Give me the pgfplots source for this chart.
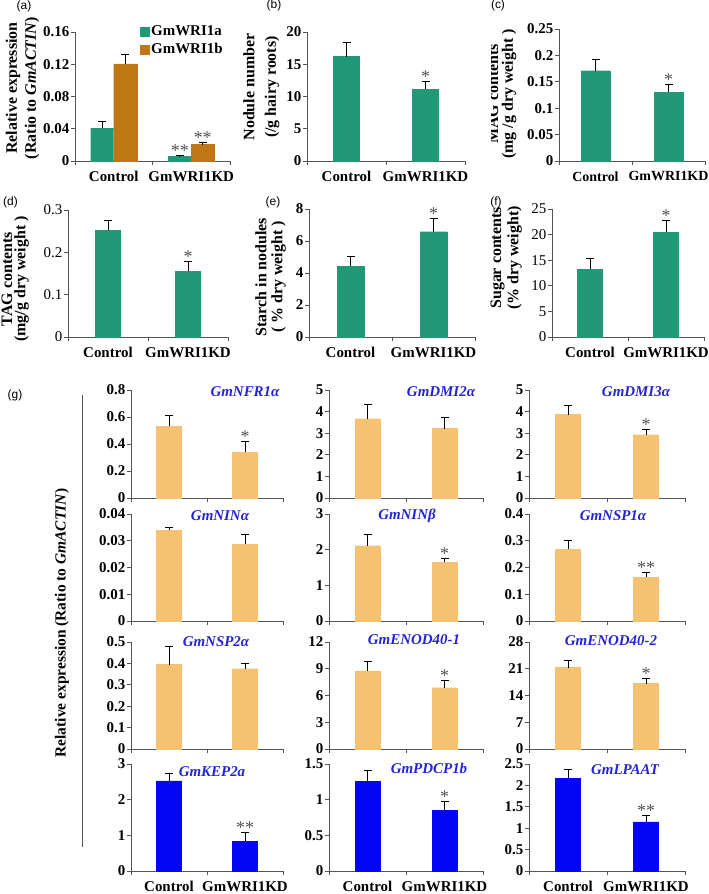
\documentclass[border=0pt]{standalone}
\usepackage{fontspec}
\setmainfont{Liberation Serif}
\newfontfamily\sansf{Liberation Sans}
\usepackage{pgfplots}
\pgfplotsset{compat=1.18}
\definecolor{gA}{RGB}{33,152,118}
\definecolor{gB}{RGB}{191,119,22}
\definecolor{lo}{RGB}{245,193,115}
\definecolor{bl}{RGB}{5,5,245}
\definecolor{geneblue}{RGB}{35,35,215}
\definecolor{axisc}{RGB}{85,85,85}
\definecolor{starc}{RGB}{80,80,80}
\pgfplotsset{
 panel/.style={
  scale only axis, anchor=south west,
  axis x line*=bottom, axis y line*=left,
  axis line style={-, draw=axisc, line width=0.9bp},
  every tick/.style={draw=axisc, line width=0.9bp},
  tick align=outside, major tick length=4bp,
  xmin=-0.5, xmax=1.5, ymin=0,
  scaled y ticks=false,
  xtick={-0.5,0.5,1.5}, xticklabels={,,},
  ybar, bar width=25bp, clip=false,
  yticklabel style={font=\fontsize{15}{15}\selectfont\bfseries, inner sep=1.5bp},
  xticklabel style={font=\fontsize{15}{15}\selectfont\bfseries},
  error bars/y dir=plus, error bars/y explicit,
  error bars/error bar style={draw=black, line width=0.8bp},
  error bars/error mark options={draw=black, line width=0.8bp, mark size=4bp, rotate=90},
 },
 reg/.style={yticklabel style={font=\fontsize{15}{15}\selectfont\mdseries}},
 cats/.style={extra x ticks={0,1}, extra x tick labels={Control,GmWRI1KD},
   extra x tick style={major tick length=0pt, xticklabel style={yshift=-7bp}}},
}
\tikzset{
 sig/.style={font=\fontsize{18}{18}\selectfont, text=starc, anchor=base, inner sep=0pt, yshift=-1bp},
 ylab/.style={font=\fontsize{16}{16}\selectfont\bfseries, rotate=90, anchor=center, inner sep=0pt},
 plab/.style={font=\sansf\fontsize{12}{12}\selectfont, anchor=center, inner sep=0pt},
 glab/.style={font=\fontsize{15}{15}\selectfont\bfseries\itshape, text=geneblue, anchor=center, inner sep=0pt},
}
\begin{document}
\begin{tikzpicture}
\path[use as bounding box] (0bp,0bp) rectangle (709bp,894bp);

% ---------- (a)
\begin{axis}[panel, cats, at={(75bp,733bp)}, width=155bp, height=129bp,
  ymax=0.16, ytick={0,0.04,0.08,0.12,0.16}, yticklabels={0,0.04,0.08,0.12,0.16},
  ybar=0pt, bar width=23bp,
  legend style={at={(0.42,1.06)}, anchor=north west, draw=none, fill=none,
    font=\fontsize{15}{15}\selectfont\bfseries, row sep=3bp, inner sep=0pt,
    nodes={inner sep=1.5bp}},
  legend cell align=left,
  legend image code/.code={\fill[#1] (0bp,-4.5bp) rectangle (9bp,4.5bp);}]
\addplot[fill=gA, draw=gA] coordinates {(0,0.0406) +- (0,0.0084) (1,0.0054) +- (0,0.0012)};
\addplot[fill=gB, draw=gB] coordinates {(0,0.1206) +- (0,0.012) (1,0.0203) +- (0,0.0029)};
\legend{GmWRI1a,GmWRI1b}
\node[sig] at (axis cs:0.852,0.0066) {**};
\node[sig] at (axis cs:1.148,0.0232) {**};
\end{axis}
\node[ylab] at (13bp,806bp) {Relative expression};
\node[ylab] at (32bp,806bp) {(Ratio to \textit{GmACTIN})};
\node[plab] at (24bp,888bp) {(a)};

% ---------- (b)
\begin{axis}[panel, cats, at={(307bp,733bp)}, width=158bp, height=129bp,
  ymax=20, ytick={0,5,10,15,20}, yticklabels={0,5,10,15,20}, bar width=26bp]
\addplot[fill=gA, draw=gA] coordinates {(0,16.2) +- (0,2.2) (1,11.1) +- (0,1.3)};
\node[sig] at (axis cs:1,12.4) {*};
\end{axis}
\node[ylab] at (249bp,807bp) {Nodule number};
\node[ylab] at (272bp,807bp) {(/g hairy roots)};
\node[plab] at (274bp,889bp) {(b)};

% ---------- (c)
\begin{axis}[panel, cats, at={(559bp,733bp)}, width=146bp, height=132bp,
  ymax=0.25, ytick={0,0.05,0.1,0.15,0.2,0.25}, yticklabels={0,0.05,0.1,0.15,0.2,0.25}, bar width=29bp,
  xticklabel style={font=\fontsize{14}{14}\selectfont\bfseries}]
\addplot[fill=gA, draw=gA] coordinates {(0,0.171) +- (0,0.022) (1,0.130) +- (0,0.015)};
\node[sig] at (axis cs:1,0.145) {*};
\end{axis}
\begin{scope}
\clip (491bp,700bp) rectangle (709bp,894bp);
\node[ylab] at (493bp,800bp) {MAG contents};
\end{scope}
\node[ylab] at (509bp,800bp) {(mg /g dry weight )};
\node[plab] at (498bp,889bp) {(c)};

% ---------- (d)
\begin{axis}[panel, cats, reg, at={(68bp,557bp)}, width=160bp, height=127bp,
  ymax=0.3, ytick={0,0.1,0.2,0.3}, yticklabels={0,0.1,0.2,0.3}, bar width=25bp]
\addplot[fill=gA, draw=gA] coordinates {(0,0.2526) +- (0,0.022) (1,0.155) +- (0,0.024)};
\node[sig] at (axis cs:1,0.179) {*};
\end{axis}
\node[ylab] at (7bp,615bp) {TAG contents};
\node[ylab] at (21.5bp,615bp) {(mg/g dry weight )};
\node[plab] at (10.5bp,692bp) {(d)};

% ---------- (e)
\begin{axis}[panel, cats, at={(309bp,557bp)}, width=166bp, height=128bp,
  ymax=8, ytick={0,2,4,6,8}, yticklabels={0,2,4,6,8}, bar width=27bp]
\addplot[fill=gA, draw=gA] coordinates {(0,4.43) +- (0,0.6) (1,6.58) +- (0,0.81)};
\node[sig] at (axis cs:1,7.39) {*};
\end{axis}
\node[ylab] at (261bp,617bp) {Starch in nodules};
\node[ylab] at (278.5bp,617bp) {( \% dry weight )};
\node[plab] at (273bp,692bp) {(e)};

% ---------- (f)
\begin{axis}[panel, cats, reg, at={(552bp,557bp)}, width=152bp, height=128bp,
  ymax=25, ytick={0,5,10,15,20,25}, yticklabels={0,5,10,15,20,25}, bar width=25bp]
\addplot[fill=gA, draw=gA] coordinates {(0,13.19) +- (0,2.15) (1,20.43) +- (0,2.35)};
\node[sig] at (axis cs:1,22.78) {*};
\end{axis}
\node[ylab] at (497.5bp,636bp) {Sugar contents};
\node[ylab] at (514.5bp,636bp) {(\% dry weight)};
\node[plab] at (496bp,692bp) {(f)};

% ---------- (g) row 1
\begin{axis}[panel, at={(131bp,396bp)}, width=152bp, height=108bp,
  ymax=0.8, ytick={0,0.2,0.4,0.6,0.8}, yticklabels={0,0.2,0.4,0.6,0.8}]
\addplot[fill=lo, draw=lo] coordinates {(0,0.53) +- (0,0.08) (1,0.34) +- (0,0.08)};
\node[sig] at (axis cs:1,0.42) {*};
\end{axis}
\begin{axis}[panel, at={(329bp,396bp)}, width=154bp, height=108bp,
  ymax=5, ytick={0,1,2,3,4,5}, yticklabels={0,1,2,3,4,5}]
\addplot[fill=lo, draw=lo] coordinates {(0,3.67) +- (0,0.66) (1,3.21) +- (0,0.54)};
\end{axis}
\begin{axis}[panel, at={(529bp,396bp)}, width=156bp, height=108bp,
  ymax=5, ytick={0,1,2,3,4,5}, yticklabels={0,1,2,3,4,5}]
\addplot[fill=lo, draw=lo] coordinates {(0,3.86) +- (0,0.42) (1,2.93) +- (0,0.23)};
\node[sig] at (axis cs:1,3.16) {*};
\end{axis}
% row 2
\begin{axis}[panel, at={(131bp,273bp)}, width=152bp, height=107bp,
  ymax=0.04, ytick={0,0.01,0.02,0.03,0.04}, yticklabels={0,0.01,0.02,0.03,0.04}]
\addplot[fill=lo, draw=lo] coordinates {(0,0.034) +- (0,0.001) (1,0.0287) +- (0,0.0037)};
\end{axis}
\begin{axis}[panel, at={(329bp,273bp)}, width=154bp, height=107bp,
  ymax=3, ytick={0,1,2,3}, yticklabels={0,1,2,3}]
\addplot[fill=lo, draw=lo] coordinates {(0,2.11) +- (0,0.32) (1,1.65) +- (0,0.11)};
\node[sig] at (axis cs:1,1.76) {*};
\end{axis}
\begin{axis}[panel, at={(529bp,273bp)}, width=156bp, height=107bp,
  ymax=0.4, ytick={0,0.1,0.2,0.3,0.4}, yticklabels={0,0.1,0.2,0.3,0.4}]
\addplot[fill=lo, draw=lo] coordinates {(0,0.268) +- (0,0.035) (1,0.163) +- (0,0.019)};
\node[sig] at (axis cs:1,0.182) {**};
\end{axis}
% row 3
\begin{axis}[panel, at={(131bp,145bp)}, width=152bp, height=107bp,
  ymax=0.5, ytick={0,0.1,0.2,0.3,0.4,0.5}, yticklabels={0,0.1,0.2,0.3,0.4,0.5}]
\addplot[fill=lo, draw=lo] coordinates {(0,0.394) +- (0,0.085) (1,0.375) +- (0,0.024)};
\end{axis}
\begin{axis}[panel, at={(329bp,145bp)}, width=154bp, height=107bp,
  ymax=12, ytick={0,3,6,9,12}, yticklabels={0,3,6,9,12}]
\addplot[fill=lo, draw=lo] coordinates {(0,8.75) +- (0,1.02) (1,6.87) +- (0,0.86)};
\node[sig] at (axis cs:1,7.73) {*};
\end{axis}
\begin{axis}[panel, at={(529bp,145bp)}, width=156bp, height=107bp,
  ymax=28, ytick={0,7,14,21,28}, yticklabels={0,7,14,21,28}]
\addplot[fill=lo, draw=lo] coordinates {(0,21.3) +- (0,2.0) (1,17.1) +- (0,1.3)};
\node[sig] at (axis cs:1,18.4) {*};
\end{axis}
% row 4
\begin{axis}[panel, cats, at={(131bp,23bp)}, width=152bp, height=107bp,
  ymax=3, ytick={0,1,2,3}, yticklabels={0,1,2,3}]
\addplot[fill=bl, draw=bl] coordinates {(0,2.53) +- (0,0.21) (1,0.84) +- (0,0.24)};
\node[sig] at (axis cs:1,1.08) {**};
\end{axis}
\begin{axis}[panel, cats, at={(329bp,23bp)}, width=154bp, height=107bp,
  ymax=1.5, ytick={0,0.5,1,1.5}, yticklabels={0,0.5,1,1.5}]
\addplot[fill=bl, draw=bl] coordinates {(0,1.254) +- (0,0.156) (1,0.847) +- (0,0.13)};
\node[sig] at (axis cs:1,0.976) {*};
\end{axis}
\begin{axis}[panel, cats, at={(529bp,23bp)}, width=156bp, height=107bp,
  ymax=2.5, ytick={0,0.5,1,1.5,2,2.5}, yticklabels={0,0.5,1,1.5,2,2.5}]
\addplot[fill=bl, draw=bl] coordinates {(0,2.17) +- (0,0.21) (1,1.15) +- (0,0.14)};
\node[sig] at (axis cs:1,1.29) {**};
\end{axis}

% gene labels
\node[glab] at (245bp,502bp) {GmNFR1α};
\node[glab] at (441bp,502bp) {GmDMI2α};
\node[glab] at (636bp,502bp) {GmDMI3α};
\node[glab] at (220bp,378bp) {GmNINα};
\node[glab] at (407bp,378bp) {GmNINβ};
\node[glab] at (613bp,378bp) {GmNSP1α};
\node[glab] at (216bp,252bp) {GmNSP2α};
\node[glab] at (414bp,254bp) {GmENOD40-1};
\node[glab] at (611bp,253bp) {GmENOD40-2};
\node[glab] at (212bp,122bp) {GmKEP2a};
\node[glab] at (429bp,126bp) {GmPDCP1b};
\node[glab] at (625bp,124bp) {GmLPAAT};

\node[ylab, font=\fontsize{15.5}{15.5}\selectfont\bfseries] at (62bp,271bp) {Relative expression (Ratio to \textit{GmACTIN})};
\draw[axisc, line width=0.8bp] (82bp,499bp) -- (82bp,47bp);
\node[plab] at (15bp,499bp) {(g)};
\end{tikzpicture}
\end{document}
